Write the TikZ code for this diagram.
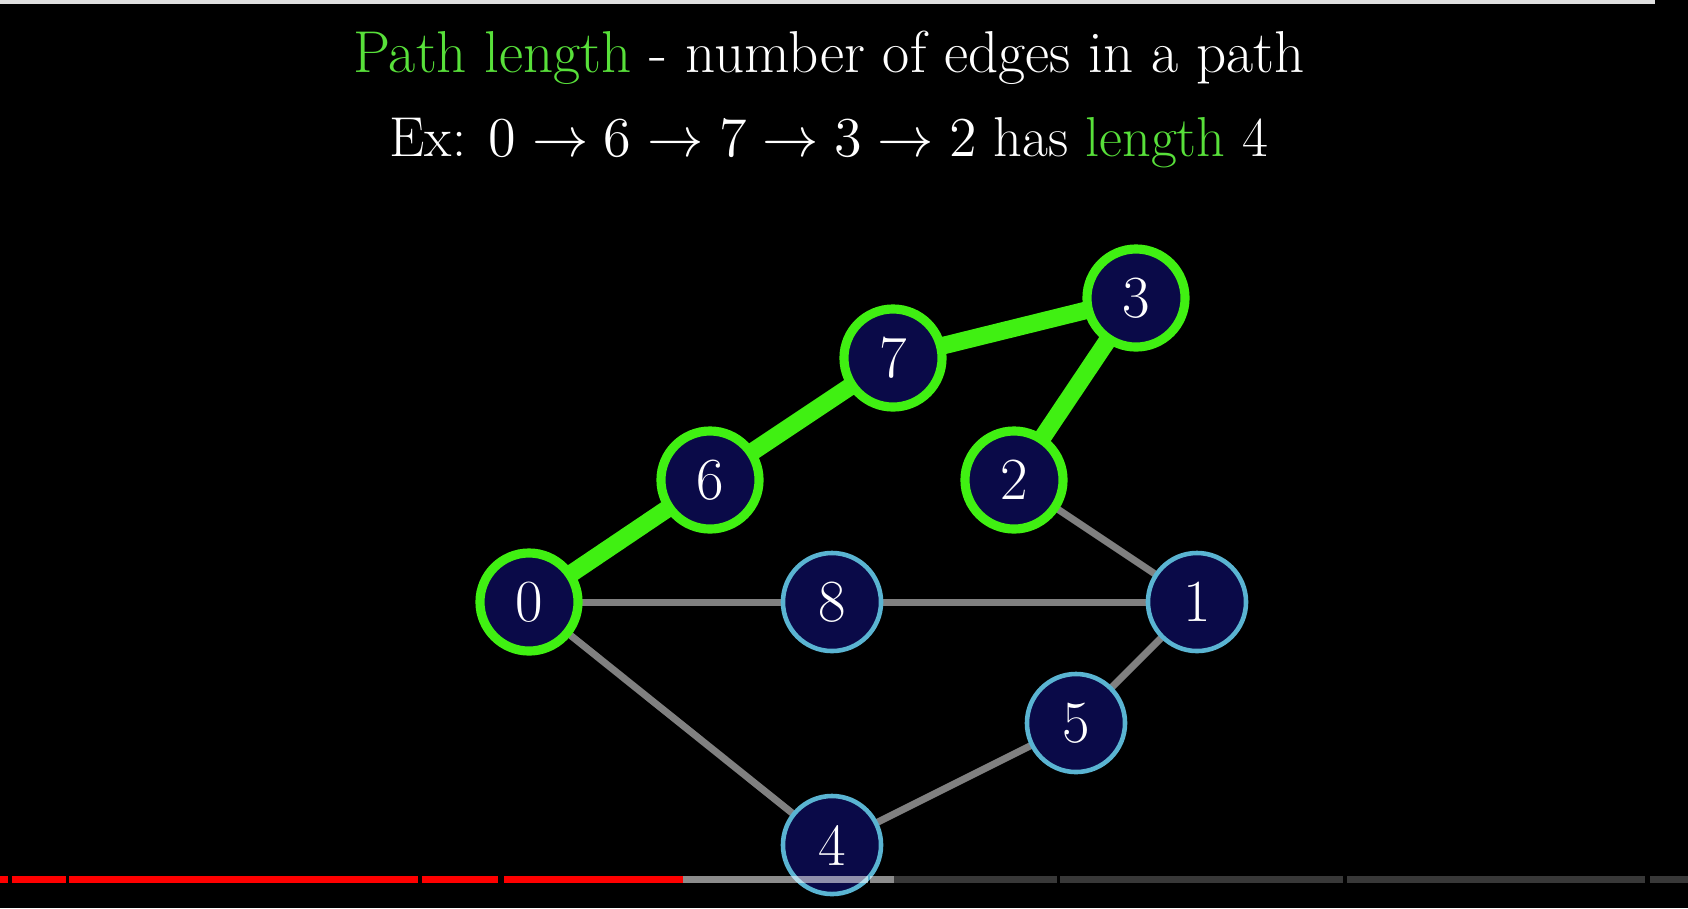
\RequirePackage{fix-cm}
\documentclass[tikz,border=0pt]{standalone}
\usepackage{tikz}
\usetikzlibrary{backgrounds}
\definecolor{navy}{HTML}{0A0A48}
\definecolor{hot}{HTML}{40F012}
\definecolor{sky}{HTML}{5AB4D2}
\definecolor{ttl}{HTML}{58E03A}
\definecolor{edg}{HTML}{808080}
\newcommand{\rr}{0.98cm}
\pgfdeclarelayer{edges}
\pgfsetlayers{background,edges,main}

\begin{document}
\begin{tikzpicture}[x=0.01cm,y=-0.01cm,
  v/.style={circle,fill=navy,draw=sky,line width=1.3pt,minimum size=\rr,
    inner sep=0pt,text=white,font=\fontsize{17}{20}\selectfont},
  vp/.style={v,draw=hot,line width=2.6pt},
  e/.style={draw=edg,line width=2pt},
  ep/.style={draw=hot,line width=5pt},
  ttext/.style={anchor=base,text=white}]
\useasboundingbox (0,0) rectangle (1688,908);
\begin{pgfonlayer}{background}
\fill[black] (0,0) rectangle (1688,908);
\fill[black!12] (0,0) rectangle (1655,4);
\end{pgfonlayer}

\node[ttext,font=\fontsize{16.8}{20}\selectfont] (title) at (829,72)
  {\textcolor{ttl}{Path length} - number of edges in a path};
\node[ttext,font=\fontsize{16}{20}\selectfont] (ex) at (829,156)
  {Ex: $0\rightarrow6\rightarrow7\rightarrow3\rightarrow2$ has \textcolor{ttl}{length} 4};

\node[vp] (n0) at (529,602) {0};
\node[vp] (n6) at (710,480) {6};
\node[vp] (n7) at (893,358) {7};
\node[vp] (n3) at (1136,298) {3};
\node[vp] (n2) at (1014,480) {2};
\node[v] (n8) at (832,602) {8};
\node[v] (n1) at (1197,602) {1};
\node[v] (n5) at (1076,723) {5};
\node[v] (n4) at (832,845) {4};

\begin{pgfonlayer}{edges}
\draw[e] (n0.center) -- (n8.center) -- (n1.center);
\draw[e] (n2.center) -- (n1.center) -- (n5.center) -- (n4.center) -- (n0.center);
\draw[ep] (n0.center) -- (n6.center) -- (n7.center) -- (n3.center) -- (n2.center);
\end{pgfonlayer}

% progress bar
\foreach \a/\b in {0/8,12/65.7,68.7/417.7,422/498,503.8/683.3}
  \fill[red] (\a,876) rectangle (\b,883);
\foreach \a/\b in {683.3/868.3,870/894}
  \fill[white,fill opacity=0.55] (\a,876) rectangle (\b,883);
\foreach \a/\b in {894/1056.7,1060/1343.3,1347.3/1645.3,1650/1688}
  \fill[white,fill opacity=0.22] (\a,876) rectangle (\b,883);
\end{tikzpicture}
\end{document}
